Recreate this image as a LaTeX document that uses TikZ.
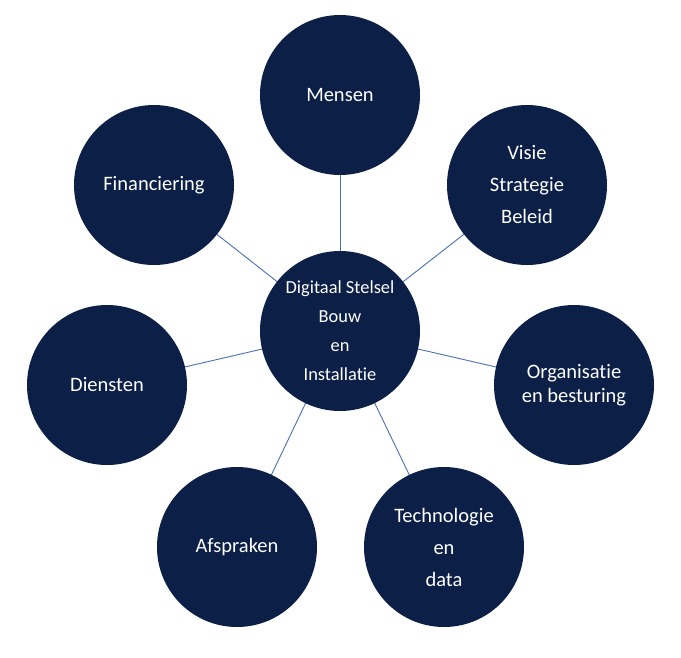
\documentclass[tikz,border=0pt]{standalone}
\usepackage{fontspec}
\setmainfont[Ligatures={NoCommon}]{Carlito}
\usetikzlibrary{backgrounds}
\definecolor{navy}{HTML}{0B1F47}
\definecolor{linkblue}{HTML}{4A6FB5}
\begin{document}
\begin{tikzpicture}[x=1pt,y=-1pt,
  bubble/.style={circle,fill=navy,draw=none,minimum size=160pt,inner sep=0pt,text=white,align=center,font=\fontsize{20.5}{32}\selectfont},
  link/.style={draw=linkblue,line width=0.9pt}]
\useasboundingbox (0,0) rectangle (681,657);
\node[bubble,font=\fontsize{18.4}{29}\selectfont] (center) at (340,331) {Digitaal Stelsel\\Bouw\\en\\Installatie};
\node[bubble] (mensen) at (340,95) {Mensen};
\node[bubble] (fin) at (154,185) {Financiering};
\node[bubble] (visie) at (527,185) {Visie\\Strategie\\Beleid};
\node[bubble] (diensten) at (107,385) {Diensten};
\node[bubble,font=\fontsize{20.5}{24}\selectfont] (org) at (574,385) {Organisatie\\en besturing};
\node[bubble] (afspr) at (237,547) {Afspraken};
\node[bubble] (tech) at (444,547) {Technologie\\en\\data};
\begin{scope}[on background layer]
\foreach \n in {mensen,fin,visie,diensten,org,afspr,tech}{
  \draw[link] (center.center) -- (\n.center);
}
\end{scope}
\end{tikzpicture}
\end{document}
